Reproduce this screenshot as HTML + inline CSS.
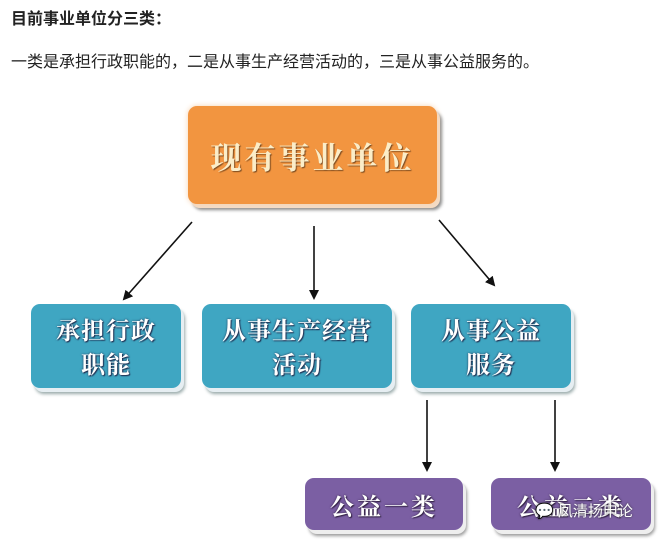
<!DOCTYPE html>
<html><head><meta charset="utf-8"><style>
body{margin:0;width:670px;height:551px;background:#fff;position:relative;overflow:hidden;font-family:"Liberation Sans","Noto Sans CJK SC",sans-serif;}
.t{position:absolute;left:11px;color:#222;white-space:nowrap}
.b{position:absolute;border-radius:9px;display:flex;align-items:center;justify-content:center;text-align:center;color:#fff;font-family:"Noto Serif CJK SC","Noto Sans CJK SC",serif;font-weight:bold;}
.blue{background:#3fa6c2;box-shadow:3px 4px 0 #e6eef2,4px 6px 3px #9aa;font-size:24px;line-height:34px;text-shadow:0 0 2px #235,1px 1px 1px #235;letter-spacing:1px}
.purple{background:#7b5fa3;box-shadow:3px 4px 0 #eee,4px 6px 3px #999;font-size:24px;text-shadow:0 0 2px #324,1px 1px 1px #324;letter-spacing:3px}
</style></head><body>
<div class="t" style="top:5px;font-size:16px;font-weight:bold">目前事业单位分三类：</div>
<div class="t" style="top:48px;font-size:16px">一类是承担行政职能的，二是从事生产经营活动的，三是从事公益服务的。</div>
<div class="b" style="left:188px;top:106px;width:249px;height:98px;background:#f29540;box-shadow:0 0 6px #f6d2b0,3px 4px 0 #f4dcc6,5px 6px 3px #888;font-size:31px;color:#fbedc8;text-shadow:1px 1px 1px #7a4a20;letter-spacing:3px">现有事业单位</div>
<div class="b blue" style="left:31px;top:304px;width:150px;height:84px">承担行政<br>职能</div>
<div class="b blue" style="left:202px;top:304px;width:190px;height:84px">从事生产经营<br>活动</div>
<div class="b blue" style="left:411px;top:304px;width:160px;height:84px">从事公益<br>服务</div>
<div class="b purple" style="left:305px;top:478px;width:158px;height:52px">公益一类</div>
<div class="b purple" style="left:491px;top:478px;width:160px;height:52px">公益二类</div>
<div style="position:absolute;left:535px;top:500px;font-size:15px;color:#fff;text-shadow:0 0 2px #333">💬 凤清扬申论</div>
<svg width="670" height="551" style="position:absolute;left:0;top:0">
<defs><marker id="a" markerWidth="10" markerHeight="10" refX="8" refY="5" orient="auto" markerUnits="userSpaceOnUse"><path d="M0,0 L10,5 L0,10 z" fill="#111"/></marker></defs>
<g stroke="#111" stroke-width="1.6" fill="none" marker-end="url(#a)">
<line x1="192" y1="222" x2="124" y2="299"/>
<line x1="314" y1="226" x2="314" y2="298"/>
<line x1="439" y1="220" x2="494" y2="285"/>
<line x1="427" y1="400" x2="427" y2="470"/>
<line x1="555" y1="400" x2="555" y2="470"/>
</g></svg>
</body></html>
